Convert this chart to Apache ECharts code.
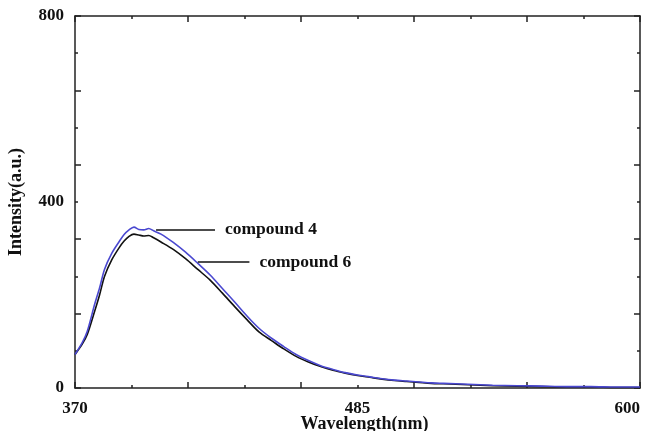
<!DOCTYPE html>
<html>
<head>
<meta charset="utf-8">
<script src="https://cdn.jsdelivr.net/npm/echarts@6/dist/echarts.min.js"></script>
<style>
  html, body { margin: 0; padding: 0; background: #fff; }
  #chart { width: 649px; height: 431px; }
</style>
</head>
<body>
<div id="chart"></div>
<script>
// wavelength (nm)
var wavelength = [370, 373, 375, 378, 380, 382, 385, 388, 390, 392, 394, 396, 398, 400, 402, 405,
  410, 415, 420, 425, 430, 435, 440, 445, 450, 455, 460, 465, 470, 475, 480, 485, 490, 495,
  500, 505, 510, 515, 520, 530, 540, 550, 560, 570, 580, 590, 600];
// compound 6 (black)
var compound6 = [72, 95, 115, 165, 200, 240, 276, 302, 316, 326, 331, 329, 327, 328, 323, 314,
  298, 278, 255, 232, 204, 175, 147, 120, 102, 84, 68, 56, 46, 38, 32, 27, 23, 19,
  16, 14, 12, 10, 9, 7, 5, 4, 3, 2, 2, 1, 1];
// compound 4 (blue)
var compound4 = [72, 98, 122, 180, 215, 255, 290, 315, 330, 340, 346, 341, 340, 343, 338, 331,
  313, 292, 268, 243, 214, 185, 155, 128, 107, 89, 72, 59, 48, 40, 33, 28, 24, 20,
  17, 15, 13, 11, 10, 8, 6, 5, 4, 3, 3, 2, 2];
var xLabels = [370, 485, 600];
var yLabels = [0, 400, 800];
// leader lines: [from nm, to nm, intensity]
var lead4 = [403, 427, 340];
var lead6 = [420, 441, 271];

var X0 = 370; // axis runs 0..230, shown as 370..600
function pts(ys) {
  return wavelength.map(function (w, i) { return [w - X0, ys[i]]; });
}

var font = 'Liberation Serif';
var frameLine = { show: true, onZero: false, lineStyle: { color: '#222', width: 1.5 } };
var tick = { inside: true, length: 6, lineStyle: { color: '#222', width: 1.5 } };
var minor = { show: true, splitNumber: 2, length: 3, lineStyle: { color: '#222', width: 1.5 } };

function leader(d, name) {
  return {
    silent: true,
    symbol: 'none',
    lineStyle: { color: '#111', width: 1.5, type: 'solid' },
    label: {
      show: true, position: 'end', distance: 10, formatter: name,
      fontFamily: font, fontWeight: 'bold', fontSize: 17.5, color: '#111'
    },
    data: [[{ coord: [d[0] - X0, d[2]] }, { coord: [d[1] - X0, d[2]] }]]
  };
}

var myChart = echarts.init(document.getElementById('chart'));
var option = {
  animation: false,
  backgroundColor: '#fff',
  grid: { left: 75, right: 9, top: 16, bottom: 43, outerBoundsMode: 'none' },
  xAxis: [{
    type: 'value', position: 'bottom', min: 0, max: 230, interval: 46,
    axisLine: frameLine, axisTick: tick, minorTick: minor,
    splitLine: { show: false },
    axisLabel: {
      customValues: xLabels.map(function (v) { return v - X0; }),
      formatter: function (v) { return v + X0; },
      alignMaxLabel: 'right',
      margin: 12, fontFamily: font, fontWeight: 'bold', fontSize: 17, color: '#111'
    },
    name: 'Wavelength(nm)', nameLocation: 'middle', nameGap: 27, nameMoveOverlap: false,
    nameTextStyle: {
      fontFamily: font, fontWeight: 'bold', fontSize: 18, color: '#111',
      verticalAlign: 'top', padding: [0, 0, 0, 14]
    }
  }, {
    type: 'value', position: 'top', min: 0, max: 230, interval: 46,
    axisLine: frameLine, axisTick: tick, minorTick: minor,
    splitLine: { show: false }, axisLabel: { show: false }
  }],
  yAxis: [{
    type: 'value', position: 'left', min: 0, max: 800, interval: 160,
    axisLine: frameLine, axisTick: tick, minorTick: minor,
    splitLine: { show: false },
    axisLabel: {
      customValues: yLabels,
      margin: 11, fontFamily: font, fontWeight: 'bold', fontSize: 17, color: '#111'
    },
    name: 'Intensity(a.u.)', nameLocation: 'middle', nameGap: 50, nameMoveOverlap: false,
    nameTextStyle: { fontFamily: font, fontWeight: 'bold', fontSize: 18, color: '#111' }
  }, {
    type: 'value', position: 'right', min: 0, max: 800, interval: 160,
    axisLine: frameLine, axisTick: tick, minorTick: minor,
    splitLine: { show: false }, axisLabel: { show: false }
  }],
  series: [{
    name: 'compound 6', type: 'line', xAxisIndex: 0, yAxisIndex: 0,
    data: pts(compound6), showSymbol: false, smooth: 0.3,
    lineStyle: { color: '#111', width: 1.6 },
    markLine: leader(lead6, 'compound 6')
  }, {
    name: 'compound 4', type: 'line', xAxisIndex: 0, yAxisIndex: 0,
    data: pts(compound4), showSymbol: false, smooth: 0.3,
    lineStyle: { color: '#4a48d0', width: 1.6 },
    markLine: leader(lead4, 'compound 4')
  }]
};
myChart.setOption(option);
window.addEventListener('resize', function () {
  myChart.resize();
});
</script>
</body>
</html>
